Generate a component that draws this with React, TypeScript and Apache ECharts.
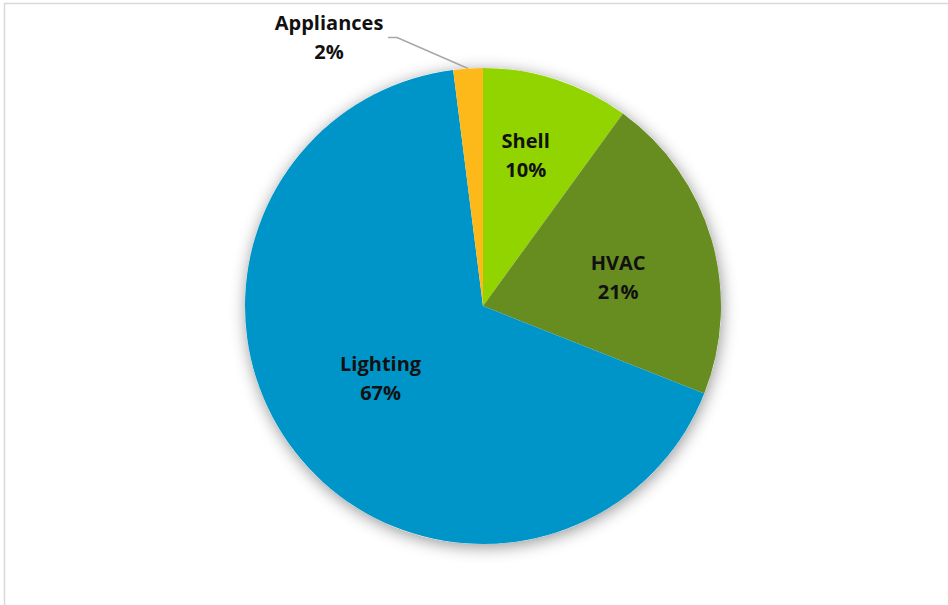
import React, { useEffect, useRef } from "react";
import * as echarts from "echarts";

const categories = ["Shell", "HVAC", "Lighting", "Appliances"];
const values = [10, 21, 67, 2];
const colors = ["#92D400", "#678C1F", "#0095C9", "#FDB81A"];

// label nudges relative to ECharts default label positions
const labelShift: [number, number][] = [
  [5, -35],
  [18, 5],
  [-6, -3],
  [-139, -31],
];

export default function App() {
  const ref = useRef<HTMLDivElement>(null);
  useEffect(() => {
    if (!ref.current) return;
    const chart = echarts.init(ref.current, null, { renderer: "svg" });
    const data = categories.map((name, i) => ({
      name,
      value: values[i],
      itemStyle: { color: colors[i] },
      label:
        i === 3
          ? { position: "outside" as const }
          : { position: "inside" as const },
      labelLine: { show: i === 3 },
    }));
    chart.setOption({
      animation: false,
      backgroundColor: "#ffffff",
      graphic: [
        {
          type: "rect",
          shape: { x: 4.5, y: 3.5, width: 1200, height: 1200 },
          style: { fill: "none", stroke: "#d9d9d9", lineWidth: 1.5 },
          z: -10,
          silent: true,
        },
      ],
      series: [
        {
          type: "pie",
          center: [483, 306],
          radius: 238,
          silent: true,
          z: 1,
          label: { show: false },
          labelLine: { show: false },
          itemStyle: {
            color: "#ffffff",
            shadowBlur: 16,
            shadowColor: "rgba(0,0,0,0.42)",
            shadowOffsetX: 1,
            shadowOffsetY: 3,
          },
          data: [{ value: 1, name: "shadow" }],
        },
        {
          type: "pie",
          center: [483, 306],
          radius: 238,
          startAngle: 90,
          clockwise: true,
          z: 2,
          silent: true,
          avoidLabelOverlap: false,
          itemStyle: { borderWidth: 0 },
          label: {
            show: true,
            formatter: "{b}\n{c}%",
            fontFamily: "Open Sans",
            fontWeight: "bold",
            fontSize: 20,
            lineHeight: 29,
            color: "#111111",
            align: "center",
          },
          labelLine: {
            show: true,
            lineStyle: { color: "#a6a6a6", width: 1.5 },
          },
          labelLayout: (params: any) => {
            const i = params.dataIndex;
            const [dx, dy] = labelShift[i];
            const r = params.labelRect;
            const cx = r.x + r.width / 2;
            const cy = r.y + r.height / 2;
            if (i === 3 && params.labelLinePoints) {
              const p0 = params.labelLinePoints[0];
              return {
                x: p0[0] + dx,
                y: p0[1] + dy,
                align: "center",
                verticalAlign: "middle",
                labelLinePoints: [
                  [p0[0], p0[1]],
                  [p0[0] - 71, p0[1] - 31],
                  [p0[0] - 80, p0[1] - 31],
                ],
              };
            }
            return {
              x: cx + dx,
              y: cy + dy,
              align: "center",
              verticalAlign: "middle",
            };
          },
          data,
        },
      ],
    });
    return () => chart.dispose();
  }, []);
  return (
    <div
      ref={ref}
      style={{ position: "fixed", left: 0, top: 0, width: 948, height: 605 }}
    />
  );
}
